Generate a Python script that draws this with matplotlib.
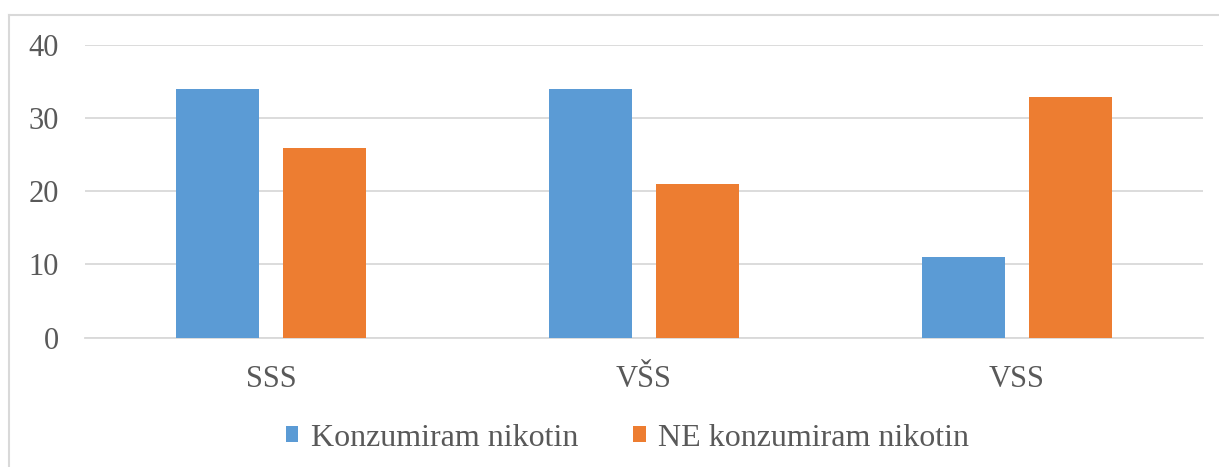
import matplotlib
matplotlib.use("Agg")
import matplotlib.pyplot as plt
import numpy as np
from matplotlib.lines import Line2D

plt.rcParams['font.family'] = ['Liberation Serif', 'DejaVu Serif']

categories = ["SSS", "VŠS", "VSS"]
konzumiram = [34, 34, 11]
ne_konzumiram = [26, 21, 33]
series_labels = ["Konzumiram nikotin", "NE konzumiram nikotin"]
yticks = [0, 10, 20, 30, 40]

c_blue = "#5B9BD5"
c_orange = "#ED7D31"
c_text = "#595959"
c_grid = "#D9D9D9"

fig = plt.figure(figsize=(12.19, 4.67), dpi=100)
ax = fig.add_axes([0.0697, 0.2773, 0.9172, 0.6253])

x = np.arange(len(categories))
w = 0.223
off = 0.1435
ax.bar(x - off, konzumiram, w, color=c_blue, label=series_labels[0], zorder=3)
ax.bar(x + off, ne_konzumiram, w, color=c_orange, label=series_labels[1], zorder=3)

ax.set_xlim(-0.5, len(categories) - 0.5)
ax.set_ylim(0, 40)
ax.set_yticks(yticks)
ax.set_xticks(x)
ax.set_xticklabels(categories)
ax.tick_params(axis="both", length=0, labelsize=22, colors=c_text)
ax.tick_params(axis="y", pad=19)
ax.tick_params(axis="x", pad=20)
ax.grid(axis="y", color=c_grid, linewidth=1.3, zorder=0)
for s in ["top", "right", "left"]:
    ax.spines[s].set_visible(False)
ax.spines["bottom"].set_color(c_grid)
ax.spines["bottom"].set_linewidth(1.3)

fig.legend(loc="center", bbox_to_anchor=(0.5148, 0.062), ncol=2, frameon=False,
           fontsize=23, labelcolor=c_text, handlelength=0.4, handleheight=0.4,
           handletextpad=0.4, columnspacing=1.7)

# outer chart border (only left and top edges visible in the crop)
fig.add_artist(Line2D([9/1219, 9/1219], [0, 1 - 15/467], transform=fig.transFigure, color=c_grid, linewidth=1.5))
fig.add_artist(Line2D([9/1219, 1], [1 - 15/467, 1 - 15/467], transform=fig.transFigure, color=c_grid, linewidth=1.5))

fig.savefig("out.png", dpi=100, facecolor="white")
